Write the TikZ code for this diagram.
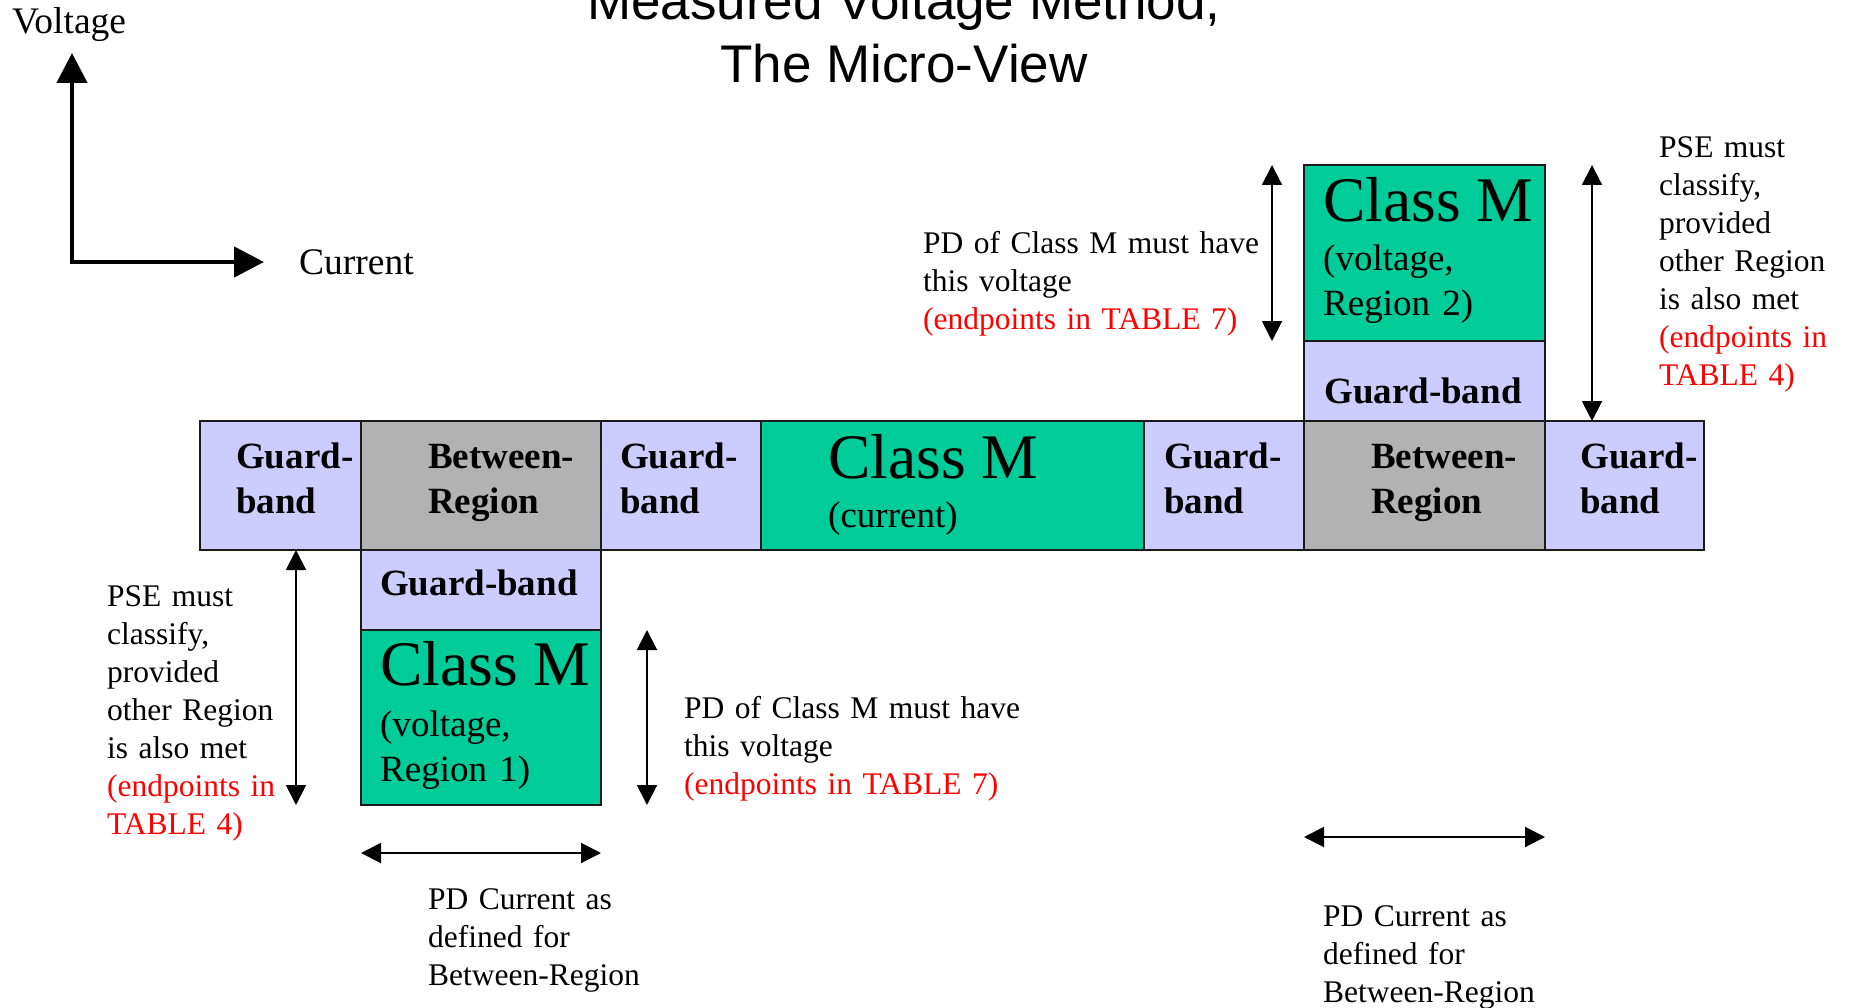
\documentclass[tikz,border=0pt]{standalone}
\usepackage{fontspec}
\setmainfont{Liberation Serif}
\newfontfamily\titlefont{Liberation Sans}
\usetikzlibrary{arrows.meta}
\definecolor{gbcol}{HTML}{CCCCFF}
\definecolor{brcol}{HTML}{B2B2B2}
\definecolor{cmcol}{HTML}{00CC99}
\definecolor{redtxt}{HTML}{FF0000}
\definecolor{edgecol}{HTML}{1A1A1A}
\begin{document}
\begin{tikzpicture}[x=1pt,y=-1pt,
  cell/.style={draw=edgecol, line width=2pt, inner sep=0pt, outer sep=0pt, anchor=north west},
  gbcell/.style={cell, fill=gbcol},
  brcell/.style={cell, fill=brcol},
  cmcell/.style={cell, fill=cmcol},
  bodytxt/.style={inner sep=0pt, anchor=base west, align=left, text width=#1,
    font=\fontsize{31.5}{38}\selectfont},
  bodytxt/.default=400pt,
  boxtxt/.style={inner sep=0pt, anchor=base west, align=left, text width=300pt,
    font=\fontsize{37}{45}\selectfont\bfseries},
  boxreg/.style={inner sep=0pt, anchor=base west, align=left, text width=300pt,
    font=\fontsize{37}{45}\selectfont},
  bigtxt/.style={inner sep=0pt, anchor=base west, font=\fontsize{63.5}{76}\selectfont},
  axislbl/.style={inner sep=0pt, anchor=base west, font=\fontsize{37.5}{45}\selectfont},
  titletxt/.style={inner sep=0pt, anchor=base, font=\titlefont\fontsize{53}{63}\selectfont},
  dbl/.style={line width=2pt, {Triangle[length=20pt,width=20pt]}-{Triangle[length=20pt,width=20pt]}},
  axisarr/.style={line width=4.5pt, line join=miter, {Triangle[length=30pt,width=30pt]}-{Triangle[length=30pt,width=30pt]}}
]
\useasboundingbox (0,0) rectangle (1849,1008);

% title
\node[titletxt] (t1) at (904,20) {Measured Voltage Method,};
\node[titletxt] (t2) at (904,83) {The Micro-View};

% axes
\coordinate (orig) at (72,262);
\coordinate (vtip) at (72,53);
\coordinate (htip) at (264,262);
\draw[axisarr] (vtip) -- (orig) -- (htip);
\node[axislbl] (vlbl) at (12,34) {Voltage};
\node[axislbl] (clbl) at (299,275) {Current};

% main row
\node[gbcell, minimum width=161pt, minimum height=129pt] (gb1) at (200,421) {};
\node[brcell, minimum width=240pt, minimum height=129pt] (br1) at (361,421) {};
\node[gbcell, minimum width=160pt, minimum height=129pt] (gb2) at (601,421) {};
\node[cmcell, minimum width=383pt, minimum height=129pt] (cm0) at (761,421) {};
\node[gbcell, minimum width=160pt, minimum height=129pt] (gb3) at (1144,421) {};
\node[brcell, minimum width=241pt, minimum height=129pt] (br2) at (1304,421) {};
\node[gbcell, minimum width=159pt, minimum height=129pt] (gb4) at (1545,421) {};

% lower stack
\node[gbcell, minimum width=240pt, minimum height=80pt] (gbl) at (361,550) {};
\node[cmcell, minimum width=240pt, minimum height=175pt] (cml) at (361,630) {};

% upper stack
\node[cmcell, minimum width=241pt, minimum height=176pt] (cmu) at (1304,165) {};
\node[gbcell, minimum width=241pt, minimum height=80pt] (gbu) at (1304,341) {};

% texts in main row
\node[boxtxt] (gb1t) at (236,468) {Guard-\\band};
\node[boxtxt] (br1t) at (428,468) {Between-\\Region};
\node[boxtxt] (gb2t) at (620,468) {Guard-\\band};
\node[bigtxt] (cm0t) at (828,478) {Class M};
\node[boxreg] (cm0s) at (828,527) {(current)};
\node[boxtxt] (gb3t) at (1164,468) {Guard-\\band};
\node[boxtxt] (br2t) at (1371,468) {Between-\\Region};
\node[boxtxt] (gb4t) at (1580,468) {Guard-\\band};

% lower stack texts
\node[boxtxt] (gblt) at (380,595) {Guard-band};
\node[bigtxt] (cmlt) at (380,685) {Class M};
\node[boxreg] (cmls) at (380,736) {(voltage,\\Region 1)};

% upper stack texts
\node[bigtxt] (cmut) at (1323,222) {Class M};
\node[boxreg] (cmus) at (1323,271) {(voltage,\\Region 2)};
\node[boxtxt] (gbut) at (1324,403) {Guard-band};

% vertical double arrows
\coordinate (a1t) at (296,550); \coordinate (a1b) at (296,805);
\coordinate (a2t) at (647,630); \coordinate (a2b) at (647,805);
\coordinate (a3t) at (1272,165); \coordinate (a3b) at (1272,341);
\coordinate (a4t) at (1592,165); \coordinate (a4b) at (1592,421);
\draw[dbl] (a1t) -- (a1b);
\draw[dbl] (a2t) -- (a2b);
\draw[dbl] (a3t) -- (a3b);
\draw[dbl] (a4t) -- (a4b);

% horizontal double arrows
\coordinate (h1l) at (361,853); \coordinate (h1r) at (601,853);
\coordinate (h2l) at (1304,837); \coordinate (h2r) at (1545,837);
\draw[dbl] (h1l) -- (h1r);
\draw[dbl] (h2l) -- (h2r);

% annotations
\node[bodytxt] (pdu) at (923,254) {PD of Class M must have\\this voltage\\\textcolor{redtxt}{(endpoints in TABLE 7)}};
\node[bodytxt] (pdl) at (684,718) {PD of Class M must have\\this voltage\\\textcolor{redtxt}{(endpoints in TABLE 7)}};
\node[bodytxt] (psel) at (107,606) {PSE must\\classify,\\provided\\other Region\\is also met\\\textcolor{redtxt}{(endpoints in}\\\textcolor{redtxt}{TABLE 4)}};
\node[bodytxt] (pser) at (1659,158) {PSE must\\classify,\\provided\\other Region\\is also met\\\textcolor{redtxt}{(endpoints in}\\\textcolor{redtxt}{TABLE 4)}};
\node[bodytxt] (cur1) at (428,909) {PD Current as\\defined for\\Between-Region};
\node[bodytxt] (cur2) at (1323,926) {PD Current as\\defined for\\Between-Region};
\end{tikzpicture}
\end{document}
